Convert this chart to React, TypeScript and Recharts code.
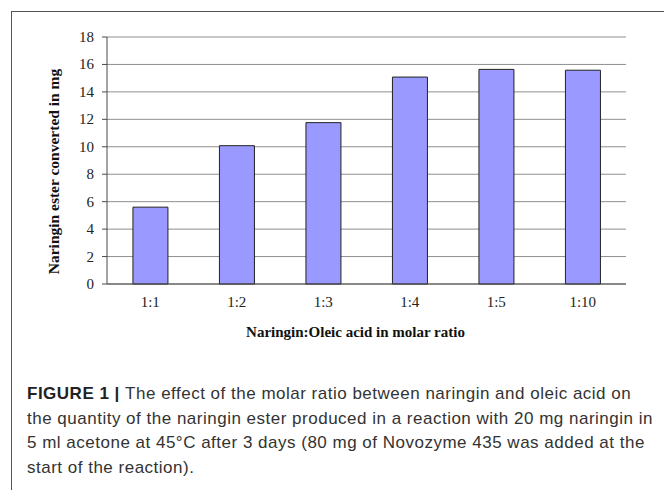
import React from "react"
import { BarChart, Bar, XAxis, YAxis, CartesianGrid } from "recharts"

const ratios = ["1:1", "1:2", "1:3", "1:4", "1:5", "1:10"]
const esterMg = [5.6, 10.08, 11.76, 15.08, 15.64, 15.58]
const yTicks = [0, 2, 4, 6, 8, 10, 12, 14, 16, 18]
const edgeTicks = [0, 1, 2, 3, 4, 5, 6]

const captionLines = [
  "The effect of the molar ratio between naringin and oleic acid on",
  "the quantity of the naringin ester produced in a reaction with 20 mg naringin in",
  "5 ml acetone at 45°C after 3 days (80 mg of Novozyme 435 was added at the",
  "start of the reaction).",
]

const data = ratios.map((r, i) => ({ ratio: r, mg: esterMg[i] }))

const serif = "'Liberation Serif', 'Times New Roman', serif"
const axisColor = "#4a4a4a"
const gridColor = "#8f8f8f"

const XTick = (p: any) => (
  <text x={p.x} y={p.y} dy={10} textAnchor="middle" fontFamily={serif} fontSize={15} fill="#222">
    {p.payload.value}
  </text>
)

const YTick = (p: any) => (
  <text x={p.x} y={p.y} dy={5} textAnchor="end" fontFamily={serif} fontSize={15} fill="#222">
    {p.payload.value}
  </text>
)

export default function App() {
  return (
    <div
      style={{
        position: "absolute",
        left: 0,
        top: 0,
        width: 664,
        height: 490,
        background: "#fff",
        overflow: "hidden",
      }}
    >
      {/* frame */}
      <div
        style={{
          position: "absolute",
          left: 11,
          top: 11,
          right: 0,
          bottom: 0,
          borderLeft: "1px solid #555",
          borderTop: "1px solid #555",
        }}
      />

      <div style={{ position: "absolute", left: 0, top: 0 }}>
        <BarChart
          width={664}
          height={360}
          data={data}
          margin={{ top: 37, right: 38, left: 0, bottom: 0 }}
          barCategoryGap="30%"
        >
          <CartesianGrid vertical={false} xAxisId={0} stroke={gridColor} strokeWidth={1} />
          {/* between-category tick marks, Excel style */}
          <XAxis
            xAxisId={0}
            type="number"
            domain={[0, 6]}
            ticks={edgeTicks}
            height={5}
            tick={false}
            tickSize={5}
            stroke={axisColor}
            axisLine={{ stroke: axisColor }}
            tickLine={{ stroke: axisColor }}
          />
          <XAxis
            xAxisId={1}
            dataKey="ratio"
            height={71}
            axisLine={false}
            tickLine={false}
            tickSize={3}
            tickMargin={5}
            tick={<XTick />}
            label={{
              content: (p: any) => {
                const vb = p.viewBox
                return (
                  <text
                    x={vb.x + vb.width / 2 - 11}
                    y={337}
                    textAnchor="middle"
                    fontFamily={serif}
                    fontWeight="bold"
                    fontSize={15}
                    fill="#111"
                  >
                    Naringin:Oleic acid in molar ratio
                  </text>
                )
              },
            }}
          />
          <YAxis
            width={107}
            domain={[0, 18]}
            ticks={yTicks}
            interval={0}
            tickSize={5}
            tickMargin={8}
            axisLine={{ stroke: axisColor }}
            tickLine={{ stroke: axisColor }}
            tick={<YTick />}
            label={{
              content: (p: any) => {
                const vb = p.viewBox
                const cx = vb.x + 53
                const cy = vb.y + vb.height / 2 + 11
                return (
                  <text
                    x={cx}
                    y={cy}
                    transform={`rotate(-90, ${cx}, ${cy})`}
                    textAnchor="middle"
                    dominantBaseline="central"
                    fontFamily={serif}
                    fontWeight="bold"
                    fontSize={15.5}
                    fill="#111"
                  >
                    Naringin ester converted in mg
                  </text>
                )
              },
            }}
          />
          <YAxis
            yAxisId="right"
            orientation="right"
            width={0}
            tick={false}
            tickLine={false}
            axisLine={{ stroke: gridColor }}
          />
          <Bar
            xAxisId={1}
            dataKey="mg"
            fill="#9999ff"
            stroke="#222"
            strokeWidth={1}
            isAnimationActive={false}
          />
        </BarChart>
      </div>

      <div
        style={{
          position: "absolute",
          left: 27,
          top: 382,
          fontFamily: "'Liberation Sans', Arial, sans-serif",
          fontSize: 17,
          letterSpacing: 0.5,
          lineHeight: "24.5px",
          color: "#333",
          whiteSpace: "nowrap",
        }}
      >
        {captionLines.map((line, i) => (
          <div key={i}>
            {i === 0 && <b style={{ color: "#222" }}>FIGURE 1 | </b>}
            {line}
          </div>
        ))}
      </div>
    </div>
  )
}
